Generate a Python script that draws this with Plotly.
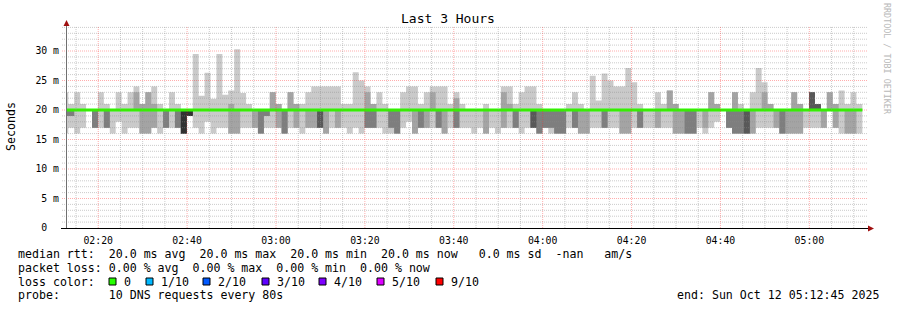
import plotly.graph_objects as go
from datetime import datetime, timedelta

# ---------------- data ----------------
STEP_SECONDS = 80
FIRST_STEP = datetime(2025, 10, 12, 2, 11, 56)
RANGE_START = "2025-10-12 02:12:45"
RANGE_END = "2025-10-12 05:12:45"

# sorted ping results per 80 s step (ms), ping_1 = fastest ... ping_10 = slowest
ping_1 = [
    16, 17, 16, 17, 20, 17, 17, 17, 16, 18,
    16, 17, 17, 16, 16, 17, 16, 17, 17, 17,
    16, 19, 17, 16, 18, 16, 17, 17, 16, 16,
    17, 17, 17, 16, 17, 17, 17, 16, 17, 17,
    16, 17, 17, 17, 16, 17, 17, 17, 16, 17,
    16, 17, 17, 17, 16, 16, 16, 17, 18, 16,
    17, 17, 17, 17, 16, 17, 17, 17, 17, 16,
    17, 16, 17, 16, 17, 17, 17, 16, 17, 17,
    16, 17, 16, 16, 16, 17, 17, 16, 16, 17,
    17, 17, 17, 17, 16, 16, 17, 17, 17, 17,
    17, 17, 17, 16, 16, 16, 16, 17, 16, 17,
    18, 20, 17, 16, 16, 16, 16, 17, 17, 17,
    17, 16, 16, 16, 16, 17, 17, 17, 17, 20,
    17, 16, 16, 16, 16]
ping_2 = [
    19, 19, 20, 20, 20, 17, 20, 17, 20, 20,
    20, 20, 20, 16, 16, 17, 20, 17, 20, 17,
    16, 19, 20, 20, 20, 20, 20, 20, 16, 16,
    20, 20, 17, 16, 19, 20, 17, 16, 20, 17,
    20, 17, 17, 17, 16, 20, 17, 20, 20, 20,
    20, 17, 17, 20, 20, 17, 16, 20, 20, 16,
    17, 17, 20, 17, 16, 20, 17, 20, 20, 20,
    20, 16, 20, 20, 17, 20, 17, 20, 20, 17,
    16, 17, 17, 16, 16, 20, 17, 16, 16, 20,
    20, 17, 20, 20, 16, 16, 20, 17, 20, 20,
    17, 20, 20, 16, 16, 16, 16, 20, 17, 20,
    20, 20, 17, 16, 16, 16, 16, 20, 20, 20,
    17, 16, 16, 16, 16, 20, 20, 20, 17, 20,
    17, 20, 16, 16, 20]
ping_3 = [
    19, 19, 20, 20, 20, 17, 20, 17, 20, 20,
    20, 20, 20, 20, 20, 20, 20, 17, 20, 17,
    16, 19, 20, 20, 20, 20, 20, 20, 20, 20,
    20, 20, 20, 16, 19, 20, 20, 16, 20, 20,
    20, 20, 20, 17, 20, 20, 20, 20, 20, 20,
    20, 17, 17, 20, 20, 17, 16, 20, 20, 20,
    17, 20, 20, 17, 20, 20, 17, 20, 20, 20,
    20, 20, 20, 20, 20, 20, 17, 20, 20, 17,
    16, 17, 17, 16, 16, 20, 17, 20, 20, 20,
    20, 17, 20, 20, 20, 20, 20, 17, 20, 20,
    20, 20, 20, 20, 20, 16, 16, 20, 20, 20,
    20, 20, 17, 16, 16, 16, 20, 20, 20, 20,
    20, 16, 20, 20, 20, 20, 20, 20, 20, 20,
    20, 20, 20, 20, 20]
ping_4 = [
    20, 20, 20, 20, 20, 20, 20, 20, 20, 20,
    20, 20, 20, 20, 20, 20, 20, 20, 20, 20,
    16, 19, 20, 20, 20, 20, 20, 20, 20, 20,
    20, 20, 20, 20, 20, 20, 20, 20, 20, 20,
    20, 20, 20, 17, 20, 20, 20, 20, 20, 20,
    20, 20, 20, 20, 20, 20, 20, 20, 20, 20,
    20, 20, 20, 20, 20, 20, 20, 20, 20, 20,
    20, 20, 20, 20, 20, 20, 20, 20, 20, 17,
    20, 20, 20, 20, 20, 20, 20, 20, 20, 20,
    20, 20, 20, 20, 20, 20, 20, 20, 20, 20,
    20, 20, 20, 20, 20, 20, 20, 20, 20, 20,
    20, 20, 20, 20, 20, 16, 20, 20, 20, 20,
    20, 20, 20, 20, 20, 20, 20, 20, 20, 20,
    20, 20, 20, 20, 20]
ping_5 = [
    20, 20, 20, 20, 20, 20, 20, 20, 20, 20,
    20, 20, 20, 20, 20, 20, 20, 20, 20, 20,
    16, 19, 20, 20, 20, 20, 20, 20, 20, 20,
    20, 20, 20, 20, 20, 20, 20, 20, 20, 20,
    20, 20, 20, 20, 20, 20, 20, 20, 20, 20,
    20, 20, 20, 20, 20, 20, 20, 20, 20, 20,
    20, 20, 20, 20, 20, 20, 20, 20, 20, 20,
    20, 20, 20, 20, 20, 20, 20, 20, 20, 20,
    20, 20, 20, 20, 20, 20, 20, 20, 20, 20,
    20, 20, 20, 20, 20, 20, 20, 20, 20, 20,
    20, 20, 20, 20, 20, 20, 20, 20, 20, 20,
    20, 20, 20, 20, 20, 20, 20, 20, 20, 20,
    20, 20, 20, 20, 20, 20, 20, 20, 20, 20,
    20, 20, 20, 20, 20]
ping_6 = [
    20, 20, 20, 20, 20, 20, 20, 20, 20, 20,
    20, 20, 20, 20, 20, 20, 20, 20, 20, 20,
    20, 20, 20, 20, 20, 20, 20, 20, 20, 20,
    20, 20, 20, 20, 20, 20, 20, 20, 20, 20,
    20, 20, 20, 20, 20, 20, 20, 20, 20, 20,
    20, 20, 20, 20, 20, 20, 20, 20, 20, 20,
    20, 20, 20, 20, 20, 20, 20, 20, 20, 20,
    20, 20, 20, 20, 20, 20, 20, 20, 20, 20,
    20, 20, 20, 20, 20, 20, 20, 20, 20, 20,
    20, 20, 20, 20, 20, 20, 20, 20, 20, 20,
    20, 20, 20, 20, 20, 20, 20, 20, 20, 20,
    20, 20, 20, 20, 20, 20, 20, 20, 20, 20,
    20, 20, 20, 20, 20, 20, 20, 20, 20, 20,
    20, 20, 20, 20, 20]
ping_7 = [
    20, 20, 20, 20, 20, 20, 20, 20, 20, 20,
    20, 20, 20, 20, 20, 20, 20, 20, 20, 20,
    20, 20, 20, 20, 20, 20, 20, 20, 20, 20,
    20, 20, 20, 20, 20, 20, 20, 20, 20, 20,
    20, 20, 20, 20, 20, 20, 20, 20, 20, 20,
    20, 20, 20, 20, 20, 20, 20, 20, 20, 20,
    20, 20, 20, 20, 20, 20, 20, 20, 20, 20,
    20, 20, 20, 20, 20, 20, 20, 20, 20, 20,
    20, 20, 20, 20, 20, 20, 20, 20, 20, 20,
    20, 20, 20, 20, 20, 20, 20, 20, 20, 20,
    20, 20, 20, 20, 20, 20, 20, 20, 20, 20,
    20, 20, 20, 20, 20, 20, 20, 20, 20, 20,
    20, 20, 20, 20, 20, 20, 23, 21, 20, 20,
    20, 20, 20, 20, 20]
ping_8 = [
    20, 20, 20, 20, 20, 20, 20, 20, 20, 20,
    20, 20, 20, 20, 20, 20, 20, 20, 20, 20,
    20, 20, 20, 20, 20, 20, 20, 20, 20, 20,
    20, 20, 20, 20, 20, 20, 20, 20, 20, 20,
    20, 20, 20, 20, 20, 20, 20, 20, 20, 20,
    20, 20, 20, 20, 20, 20, 20, 20, 20, 20,
    20, 20, 20, 20, 20, 20, 20, 20, 20, 20,
    20, 20, 20, 20, 20, 20, 20, 20, 20, 20,
    20, 20, 20, 20, 20, 20, 20, 20, 20, 20,
    20, 20, 20, 20, 20, 20, 20, 20, 20, 20,
    20, 20, 20, 20, 20, 20, 20, 20, 20, 20,
    20, 20, 20, 20, 20, 20, 20, 20, 20, 20,
    20, 20, 20, 20, 20, 20, 23, 21, 20, 20,
    20, 20, 20, 20, 20]
ping_9 = [
    20, 20, 20, 20, 20, 20, 20, 20, 20, 20,
    20, 20, 23, 21, 23, 21, 20, 20, 20, 20,
    20, 20, 20, 20, 20, 20, 20, 20, 21, 20,
    20, 20, 20, 20, 20, 23, 21, 20, 23, 21,
    20, 20, 20, 20, 20, 20, 20, 20, 20, 20,
    20, 23, 21, 20, 20, 20, 20, 20, 20, 20,
    20, 20, 23, 20, 20, 20, 22, 20, 20, 20,
    20, 20, 20, 20, 23, 21, 20, 20, 20, 20,
    20, 20, 20, 20, 20, 20, 20, 20, 20, 20,
    20, 20, 20, 20, 20, 20, 20, 20, 20, 20,
    20, 20, 23.3, 21, 20, 20, 20, 20, 20, 23,
    21, 20, 20, 23, 20, 20, 20, 20, 23, 21,
    20, 20, 20, 23, 21, 20, 23, 21, 20, 23,
    21, 20, 20, 20, 20]
ping_10 = [
    23, 21, 23, 21, 20, 20, 23, 21, 20, 23,
    21, 23, 24, 21, 23, 24, 21, 20, 23, 21,
    20, 20, 29.5, 22.4, 26.3, 21.9, 29.5, 22.6, 23.3, 30.3,
    22.9, 21, 20, 20, 20, 23, 21, 20, 23, 21,
    21, 23, 24, 24, 24, 24, 24, 21, 21, 26.4,
    25, 24, 21, 23, 21, 20, 20, 23, 24, 24,
    21, 23, 24, 24, 24, 21, 23, 21, 20, 20,
    20, 21, 20, 20, 24, 24, 21, 23, 24, 24,
    21, 20, 20, 20, 20, 21, 23, 21, 20, 25.8,
    21.6, 26.2, 25, 24, 24, 27.1, 24.7, 21, 20, 20,
    23, 21, 23.3, 21, 20, 20, 20, 20, 20, 23,
    21, 20, 20, 23, 21, 20, 23, 27.1, 24.7, 21,
    20, 20, 20, 23, 21, 20, 23, 21, 20, 23,
    21, 23.3, 21, 23, 21]
median_rtt = [
    20.0, 20.0, 20.0, 20.0, 20.0, 20.0, 20.0, 20.0, 20.0, 20.0,
    20.0, 20.0, 20.0, 20.0, 20.0, 20.0, 20.0, 20.0, 20.0, 20.0,
    20.0, 20.0, 20.0, 20.0, 20.0, 20.0, 20.0, 20.0, 20.0, 20.0,
    20.0, 20.0, 20.0, 20.0, 20.0, 20.0, 20.0, 20.0, 20.0, 20.0,
    20.0, 20.0, 20.0, 20.0, 20.0, 20.0, 20.0, 20.0, 20.0, 20.0,
    20.0, 20.0, 20.0, 20.0, 20.0, 20.0, 20.0, 20.0, 20.0, 20.0,
    20.0, 20.0, 20.0, 20.0, 20.0, 20.0, 20.0, 20.0, 20.0, 20.0,
    20.0, 20.0, 20.0, 20.0, 20.0, 20.0, 20.0, 20.0, 20.0, 20.0,
    20.0, 20.0, 20.0, 20.0, 20.0, 20.0, 20.0, 20.0, 20.0, 20.0,
    20.0, 20.0, 20.0, 20.0, 20.0, 20.0, 20.0, 20.0, 20.0, 20.0,
    20.0, 20.0, 20.0, 20.0, 20.0, 20.0, 20.0, 20.0, 20.0, 20.0,
    20.0, 20.0, 20.0, 20.0, 20.0, 20.0, 20.0, 20.0, 20.0, 20.0,
    20.0, 20.0, 20.0, 20.0, 20.0, 20.0, 20.0, 20.0, 20.0, 20.0,
    20.0, 20.0, 20.0, 20.0, 20.0]

y_tick_values = [0, 5, 10, 15, 20, 25, 30]
y_tick_labels = ["0\u00a0\u00a0", "5 m", "10 m", "15 m", "20 m", "25 m", "30 m"]
x_tick_values = ["2025-10-12 02:20", "2025-10-12 02:40", "2025-10-12 03:00",
                 "2025-10-12 03:20", "2025-10-12 03:40", "2025-10-12 04:00",
                 "2025-10-12 04:20", "2025-10-12 04:40", "2025-10-12 05:00"]

loss_labels = ["0", "1/10", "2/10", "3/10", "4/10", "5/10", "9/10"]
loss_colors = ["#26ff00", "#00b8ff", "#0059ff", "#5e00ff", "#7e00ff", "#dd00ff", "#ff0000"]

title_text = "Last 3 Hours"
line_median = "median rtt:  20.0 ms avg  20.0 ms max  20.0 ms min  20.0 ms now   0.0 ms sd  -nan   am/s"
line_loss = "packet loss: 0.00 % avg  0.00 % max  0.00 % min  0.00 % now"
line_probe = "probe:       10 DNS requests every 80s"
line_end = "end: Sun Oct 12 05:12:45 2025"

# ---------------- geometry ----------------
W, H = 897, 310
ML, MR, MT, MB = 66, 31, 26, 82
PW, PH = W - ML - MR, H - MT - MB
Y_MAX = PH / 5.9

def px(x):
    return (x - ML) / PW

def py(y):
    return (H - MB - y) / PH

MONO = "DejaVu Sans Mono"
nb = lambda s: s.replace(" ", "\u00a0")

pings = [ping_1, ping_2, ping_3, ping_4, ping_5, ping_6, ping_7, ping_8, ping_9, ping_10]
n = len(ping_1)
xs = [FIRST_STEP + timedelta(seconds=STEP_SECONDS * j) for j in range(n + 1)]
smoke_colors = ["#cacaca", "#a4a4a4", "#7e7e7e", "#585858", "#323232"]

fig = go.Figure()
for k in range(5):
    low = pings[k]
    high = pings[9 - k]
    fig.add_trace(go.Scatter(x=xs, y=low + [low[-1]], mode="lines",
                             line=dict(width=0, shape="hv"), hoverinfo="skip",
                             showlegend=False))
    fig.add_trace(go.Scatter(x=xs, y=high + [high[-1]], mode="lines",
                             line=dict(width=0, shape="hv"), fill="tonexty",
                             fillcolor=smoke_colors[k], hoverinfo="skip",
                             showlegend=False))

fig.add_trace(go.Scatter(x=xs, y=median_rtt + [median_rtt[-1]], mode="lines",
                         line=dict(width=3, shape="hv", color="#26ff00"),
                         showlegend=False))

shapes = []
minor_c = "rgba(140,140,140,0.45)"
major_c = "rgba(255,40,40,0.38)"
# horizontal grid
for v in range(1, int(Y_MAX) + 1):
    shapes.append(dict(type="line", xref="paper", yref="y", x0=px(62), x1=px(868),
                       y0=v, y1=v, layer="above",
                       line=dict(color=major_c if v % 5 == 0 else minor_c, width=1, dash="1px,1px")))
# vertical grid
t = datetime(2025, 10, 12, 2, 15)
while t <= datetime(2025, 10, 12, 5, 10):
    major = (t.minute % 20 == 0)
    shapes.append(dict(type="line", xref="x", yref="paper", x0=t, x1=t, y0=0, y1=1,
                       layer="above",
                       line=dict(color=major_c if major else minor_c, width=1, dash="1px,1px")))
    t += timedelta(minutes=5)
# axes
shapes.append(dict(type="line", xref="paper", yref="paper", x0=px(66.5), x1=px(66.5),
                   y0=py(228), y1=py(24), layer="above", line=dict(color="#707070", width=1)))
shapes.append(dict(type="line", xref="paper", yref="paper", x0=px(61), x1=px(869),
                   y0=py(228.5), y1=py(228.5), layer="above", line=dict(color="#000000", width=1)))
# arrows
shapes.append(dict(type="path", xref="paper", yref="paper", layer="above",
                   path=f"M {px(63.5)} {py(26)} L {px(69.5)} {py(26)} L {px(66.5)} {py(20)} Z",
                   fillcolor="#a01010", line=dict(width=0)))
shapes.append(dict(type="path", xref="paper", yref="paper", layer="above",
                   path=f"M {px(868)} {py(225.5)} L {px(868)} {py(231.5)} L {px(874)} {py(228.5)} Z",
                   fillcolor="#a01010", line=dict(width=0)))

annotations = []
def text(s, x, y, size=11.6, xanchor="left", angle=0, color="#000000"):
    annotations.append(dict(text=nb(s), x=px(x), y=py(y), xref="paper", yref="paper",
                            xanchor=xanchor, yanchor="middle", showarrow=False,
                            textangle=angle, font=dict(family=MONO, size=size, color=color)))

text(title_text, 448, 19, size=13, xanchor="center")
text("Seconds", 11, 126, size=11.6, xanchor="center", angle=-90)
text("RRDTOOL / TOBI OETIKER", 887, 59, size=8.4, xanchor="center", angle=90, color="#b8b8b8")
text(line_median, 16, 254.5)
text(line_loss, 16, 268)
text("loss color:", 16, 281.5)
text(line_probe, 16, 295)
text(line_end, 881, 295, xanchor="right")

box_x = [109, 146, 203, 262, 319, 377, 436]
for bx, lab, col in zip(box_x, loss_labels, loss_colors):
    shapes.append(dict(type="rect", xref="paper", yref="paper",
                       x0=px(bx), x1=px(bx + 7), y0=py(278), y1=py(285),
                       fillcolor=col, line=dict(color="#000000", width=1)))
    text(lab, bx + 12.5, 281.5)

fig.update_layout(
    width=W, height=H, autosize=False,
    margin=dict(l=ML, r=MR, t=MT, b=MB, pad=0),
    paper_bgcolor="#ffffff", plot_bgcolor="#ffffff",
    showlegend=False,
    shapes=shapes, annotations=annotations,
    xaxis=dict(type="date", range=[RANGE_START, RANGE_END], showgrid=False, zeroline=False,
               showline=False, tickvals=x_tick_values, tickformat="%H:%M", ticks="",
               ticklabelstandoff=5, tickfont=dict(family=MONO, size=9.8, color="#000000"),
               fixedrange=True),
    yaxis=dict(range=[0, Y_MAX], showgrid=False, zeroline=False, showline=False,
               tickvals=y_tick_values, ticktext=y_tick_labels, ticks="",
               ticklabelstandoff=6, tickfont=dict(family=MONO, size=9.8, color="#000000"),
               fixedrange=True),
)

fig.write_html("out.html")
